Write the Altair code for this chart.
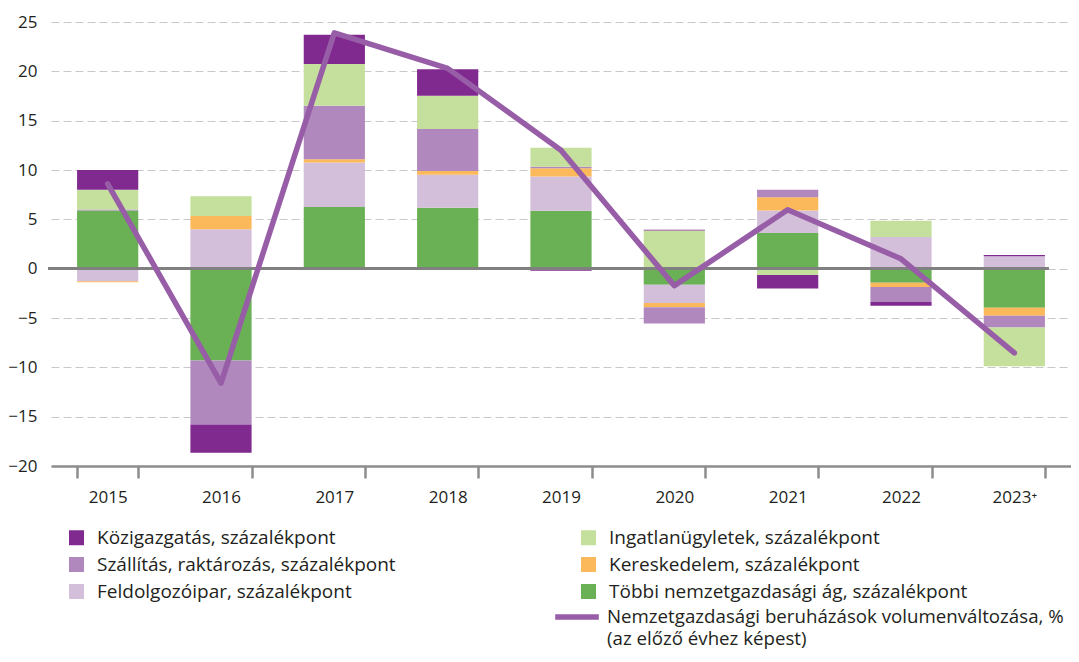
import altair as alt
import pandas as pd

years = ["2015", "2016", "2017", "2018", "2019", "2020", "2021", "2022", "2023⁺"]

series_names = [
    "Többi nemzetgazdasági ág, százalékpont",
    "Feldolgozóipar, százalékpont",
    "Kereskedelem, százalékpont",
    "Szállítás, raktározás, százalékpont",
    "Ingatlanügyletek, százalékpont",
    "Közigazgatás, százalékpont",
]

tobbi = [5.9, -9.3, 6.24, 6.17, 5.87, -1.62, 3.61, -1.42, -3.95]
feldolgozo = [-1.28, 4.0, 4.52, 3.34, 3.48, -1.85, 2.29, 3.2, 1.25]
kereskedelem = [-0.1, 1.35, 0.34, 0.4, 0.84, -0.44, 1.35, -0.44, -0.81]
szallitas = [0.1, -6.5, 5.4, 4.25, 0.13, -1.65, 0.74, -1.52, -1.21]
ingatlan = [2.0, 2.0, 4.25, 3.37, 1.93, 3.88, -0.64, 1.65, -3.91]
kozig = [2.0, -2.85, 2.97, 2.67, -0.2, 0.06, -1.38, -0.37, 0.13]

line_name = "Nemzetgazdasági beruházások volumenváltozása,  %"
line_name2 = "(az előző évhez képest)"
line_values = [8.6, -11.6, 23.9, 20.3, 12.0, -1.72, 5.97, 1.0, -8.54]

colors = {
    "Többi nemzetgazdasági ág, százalékpont": "#6ab155",
    "Feldolgozóipar, százalékpont": "#d4bfdb",
    "Kereskedelem, százalékpont": "#fbb95b",
    "Szállítás, raktározás, százalékpont": "#b088bd",
    "Ingatlanügyletek, százalékpont": "#c5df9c",
    "Közigazgatás, százalékpont": "#80298f",
}
legend_order = [
    "Közigazgatás, százalékpont",
    "Szállítás, raktározás, százalékpont",
    "Feldolgozóipar, százalékpont",
    "Ingatlanügyletek, százalékpont",
    "Kereskedelem, százalékpont",
    "Többi nemzetgazdasági ág, százalékpont",
]

all_series = [tobbi, feldolgozo, kereskedelem, szallitas, ingatlan, kozig]
rows = []
for k, (name, vals) in enumerate(zip(series_names, all_series)):
    for y, v in zip(years, vals):
        rows.append({"year": y, "series": name, "value": v, "ord": k})
bars_df = pd.DataFrame(rows)
line_df = pd.DataFrame({"year": years, "value": line_values, "series": [line_name] * len(years)})
note_df = pd.DataFrame({"t": [line_name2]})

FONT = "Open Sans"
TXT = "#231f20"

x_enc = alt.X(
    "year:N",
    sort=years,
    title=None,
    scale=alt.Scale(paddingInner=0.46, paddingOuter=0.23),
    axis=alt.Axis(
        tickBand="extent",
        labelAngle=0,
        domainColor="#8c8c8c",
        domainWidth=2.5,
        tickColor="#8c8c8c",
        tickWidth=2.5,
        tickSize=12,
        labelPadding=11,
        labelFont=FONT,
        labelFontSize=17,
        labelColor=TXT,
        grid=False,
    ),
)
y_scale = alt.Scale(domain=[-20, 25], nice=False, zero=False)

bars = alt.Chart(bars_df).mark_bar().encode(
    x=x_enc,
    y=alt.Y(
        "value:Q",
        stack="zero",
        scale=y_scale,
        title=None,
        axis=alt.Axis(
            values=[-20, -15, -10, -5, 0, 5, 10, 15, 20, 25],
            domain=False,
            ticks=False,
            labelPadding=14,
            labelFont=FONT,
            labelFontSize=17,
            labelColor=TXT,
            gridColor="#c8c8c8",
            gridDash=[8, 4],
            gridWidth=1.2,
        ),
    ),
    color=alt.Color(
        "series:N",
        scale=alt.Scale(domain=legend_order, range=[colors[s] for s in legend_order]),
        legend=alt.Legend(
            title=None,
            orient="none",
            legendX=16,
            legendY=506,
            columns=2,
            columnPadding=183,
            rowPadding=7,
            symbolType="square",
            symbolSize=225,
            symbolStrokeWidth=0,
            labelFont=FONT,
            labelFontSize=19,
            labelColor=TXT,
            labelOffset=11,
            labelLimit=500,
        ),
    ),
    order=alt.Order("ord:Q", sort="ascending"),
)

zero_rule = alt.Chart(line_df).mark_rule(color="#808080", strokeWidth=2.5).encode(
    y=alt.Y("z:Q", scale=y_scale),
    x=alt.value(-3),
    x2=alt.value(998),
).transform_calculate(z="0")

line = alt.Chart(line_df).mark_line(
    strokeWidth=5.5, strokeCap="round", strokeJoin="round"
).encode(
    x=alt.X("year:N", sort=years),
    y=alt.Y("value:Q", scale=y_scale),
    stroke=alt.Stroke(
        "series:N",
        scale=alt.Scale(domain=[line_name], range=["#985da7"]),
        legend=alt.Legend(
            title=None,
            orient="none",
            legendX=501,
            legendY=570,
            symbolType="stroke",
            symbolSize=1900,
            symbolStrokeWidth=5.5,
            labelFont=FONT,
            labelFontSize=18.7,
            labelColor=TXT,
            labelOffset=5,
            labelLimit=600,
        ),
    ),
)

note = alt.Chart(note_df).mark_text(
    align="left", baseline="middle", font=FONT, fontSize=18.7, color=TXT
).encode(
    text="t:N",
    x=alt.value(556),
    y=alt.value(617),
)

chart = (
    alt.layer(bars, zero_rule, line, note)
    .properties(
        width=1020,
        height=444,
        padding={"left": 43, "top": 14, "right": 0, "bottom": 183},
        autosize=alt.AutoSizeParams(type="none"),
    )
    .configure_view(stroke=None)
    .resolve_scale(color="independent")
)

chart.save("out.html", embed_options={"renderer": "svg", "actions": False})
